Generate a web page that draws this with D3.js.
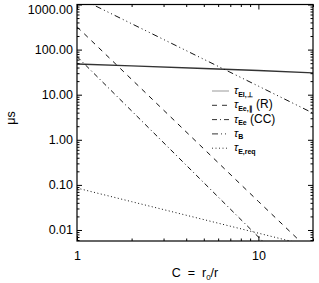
<!DOCTYPE html>
<html><head><meta charset="utf-8">
<script src="https://cdn.jsdelivr.net/npm/d3@7"></script>
<style>
body{margin:0;background:#fff;}
text{font-family:"Liberation Sans",Arial,Helvetica,sans-serif;fill:#000;}
</style></head>
<body><svg id="c" width="319" height="283"></svg>
<script>
// Data
const cValues = [1, 2, 5, 10, 20];
const tauEIperp = [48, 43.5, 38, 34.3, 30.5];
const tauEePar = [320, 21.9, 0.63, 0.043, 0.0030];
const tauEeCC = [70, 4.375, 0.112, 0.007, 0.00044];
const tauB = [1480, 375, 61, 15.5, 3.9];
const tauEreq = [0.085, 0.0425, 0.017, 0.0085, 0.00425];
const yTicks = [1000, 100, 10, 1, 0.1, 0.01];
const xTicks = [1, 10];
const seriesNames = ["EI,⊥", "Ee,∥", "Ee", "B", "E,req"];
const seriesSuffix = ["", " (R)", " (CC)", "", ""];

const m = {l:77, r:313, t:4.5, b:241};
const svg = d3.select("#c");
const x = d3.scaleLog().domain([1, 20]).range([m.l, m.r]);
const y = d3.scaleLog().domain([0.0057, 1000]).range([m.b, m.t]);

const dashes = ["none", "5,5", "5,3,1,3", "6,3,1,3,1,3,1,3", "1,2.5"];
const series = [tauEIperp, tauEePar, tauEeCC, tauB, tauEreq];

svg.append("defs").append("clipPath").attr("id","clip")
  .append("rect").attr("x",m.l).attr("y",m.t).attr("width",m.r-m.l).attr("height",m.b-m.t);

const line = d3.line().x(d=>x(d[0])).y(d=>y(d[1]));
const gl = svg.append("g").attr("clip-path","url(#clip)");
series.forEach((s,i)=>{
  gl.append("path").datum(cValues.map((c,j)=>[c,s[j]]))
    .attr("d", line).attr("fill","none")
    .attr("stroke", i===0 ? "#333" : "#111")
    .attr("stroke-width", i===0 ? 1.4 : 1)
    .attr("stroke-dasharray", dashes[i]);
});

function minors(domain){
  const out=[]; const lo=Math.floor(Math.log10(domain[0])), hi=Math.ceil(Math.log10(domain[1]));
  for(let e=lo;e<=hi;e++) for(let k=2;k<=9;k++){const v=k*Math.pow(10,e); if(v>=domain[0]&&v<=domain[1]) out.push(v);}
  return out;
}
const majLen = 5, minLen = 2.5;
function axis(gen, scale, vals, len, labels, tr, pad){
  const a = gen(scale).tickValues(vals).tickSizeInner(-len).tickSizeOuter(0).tickPadding(pad);
  a.tickFormat(labels ? labels : ()=> "");
  const g = svg.append("g").attr("transform", tr).call(a);
  g.select(".domain").remove();
  g.selectAll("line").attr("stroke","#000").attr("stroke-width",1);
  g.selectAll("text").attr("font-size","12.5px").attr("fill","#000");
  return g;
}
const gy = axis(d3.axisLeft, y, yTicks, majLen, d3.format(".2f"), `translate(${m.l},0)`, 4);
gy.selectAll("text").filter(d=>d===1000).attr("dy","0.7em");
axis(d3.axisLeft, y, minors(y.domain()), minLen, null, `translate(${m.l},0)`, 4);
axis(d3.axisRight, y, yTicks, majLen, null, `translate(${m.r},0)`, 4);
axis(d3.axisRight, y, minors(y.domain()), minLen, null, `translate(${m.r},0)`, 4);
axis(d3.axisBottom, x, xTicks, majLen, d3.format("d"), `translate(0,${m.b})`, 10);
axis(d3.axisBottom, x, minors(x.domain()), minLen, null, `translate(0,${m.b})`, 10);
axis(d3.axisTop, x, xTicks, majLen, null, `translate(0,${m.t})`, 4);
axis(d3.axisTop, x, minors(x.domain()), minLen, null, `translate(0,${m.t})`, 4);

svg.append("rect").attr("x",m.l).attr("y",m.t).attr("width",m.r-m.l).attr("height",m.b-m.t)
  .attr("fill","none").attr("stroke","#000").attr("stroke-width",1.2);

const xt = svg.append("text").attr("x",(m.l+m.r)/2).attr("y",277).attr("text-anchor","middle")
  .attr("font-size","12.5px").attr("xml:space","preserve");
xt.append("tspan").text("C  =  r");
xt.append("tspan").attr("font-size","8px").attr("dy",3).text("0");
xt.append("tspan").attr("dy",-3).text("/r");

svg.append("text").attr("transform","translate(15,118) rotate(-90)").attr("text-anchor","middle")
  .attr("font-size","12.5px").text("μs");

const lg = svg.append("g");
seriesNames.forEach((n,i)=>{
  const yy = 91 + i*14.3;
  lg.append("line").attr("x1",212).attr("x2",229).attr("y1",yy).attr("y2",yy)
    .attr("stroke", i===0 ? "#999" : "#333").attr("stroke-width",1)
    .attr("stroke-dasharray", dashes[i]);
  const t = lg.append("text").attr("x",234).attr("y",yy+3).attr("font-size","11px").attr("xml:space","preserve");
  t.append("tspan").attr("font-style","italic").text("τ");
  t.append("tspan").attr("font-size","7px").attr("font-weight","bold").attr("dy",2.5).text(n);
  if(seriesSuffix[i]) t.append("tspan").attr("dy",-2.5).attr("font-size","12px").text(seriesSuffix[i]);
});
</script></body></html>
